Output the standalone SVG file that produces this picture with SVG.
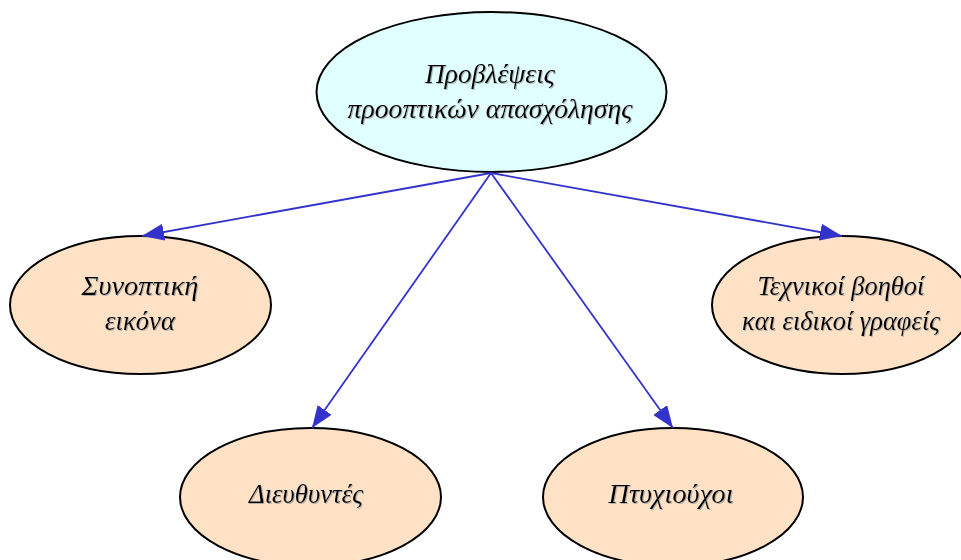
<svg xmlns="http://www.w3.org/2000/svg" width="961" height="560" viewBox="0 0 961 560">
<style>
.node ellipse{stroke:#000;stroke-width:2}
.top{fill:#E0FFFF}
.leaf{fill:#FFE2C6}
text{font-family:"Liberation Serif","DejaVu Serif",serif;font-style:italic;font-size:27px;fill:#000;text-anchor:middle;filter:url(#sh)}
.conn line{stroke:#3333CC;stroke-width:1.8;fill:none}
</style>
<defs>
<marker id="ah" viewBox="0 0 22 17" refX="22" refY="8.5" markerWidth="22" markerHeight="17" markerUnits="userSpaceOnUse" orient="auto">
<path d="M0,0 L22,8.5 L0,17 Z" fill="#3333CC"/>
</marker>
<filter id="sh" x="-5%" y="-20%" width="110%" height="140%">
<feDropShadow dx="1" dy="1" stdDeviation="0.4" flood-color="#999" flood-opacity="0.7"/>
</filter>
</defs>
<rect width="961" height="560" fill="#fff"/>
<g id="n0" class="node"><ellipse class="top" cx="491.5" cy="92" rx="175" ry="80"/>
<text x="490" y="83" textLength="130" lengthAdjust="spacingAndGlyphs">Προβλέψεις</text>
<text x="490" y="118" textLength="285" lengthAdjust="spacingAndGlyphs">προοπτικών απασχόλησης</text></g>
<g id="n1" class="node"><ellipse class="leaf" cx="140.5" cy="305" rx="130.5" ry="69"/>
<text x="140" y="295" textLength="117" lengthAdjust="spacingAndGlyphs">Συνοπτική</text>
<text x="140" y="330" textLength="70" lengthAdjust="spacingAndGlyphs">εικόνα</text></g>
<g id="n2" class="node"><ellipse class="leaf" cx="842" cy="305" rx="130" ry="69"/>
<text x="841" y="295" textLength="167" lengthAdjust="spacingAndGlyphs">Τεχνικοί βοηθοί</text>
<text x="841" y="330" textLength="198" lengthAdjust="spacingAndGlyphs">και ειδικοί γραφείς</text></g>
<g id="n3" class="node"><ellipse class="leaf" cx="310.5" cy="497" rx="130.5" ry="69"/>
<text x="306" y="503" textLength="114" lengthAdjust="spacingAndGlyphs">Διευθυντές</text></g>
<g id="n4" class="node"><ellipse class="leaf" cx="673" cy="497" rx="130" ry="69"/>
<text x="671" y="503" textLength="125" lengthAdjust="spacingAndGlyphs">Πτυχιούχοι</text></g>
<g id="connectors" class="conn">
<line x1="491" y1="173" x2="142" y2="236" marker-end="url(#ah)"/>
<line x1="491" y1="173" x2="842" y2="236" marker-end="url(#ah)"/>
<line x1="491" y1="173" x2="312" y2="428" marker-end="url(#ah)"/>
<line x1="491" y1="173" x2="673" y2="428" marker-end="url(#ah)"/>
</g>
</svg>
